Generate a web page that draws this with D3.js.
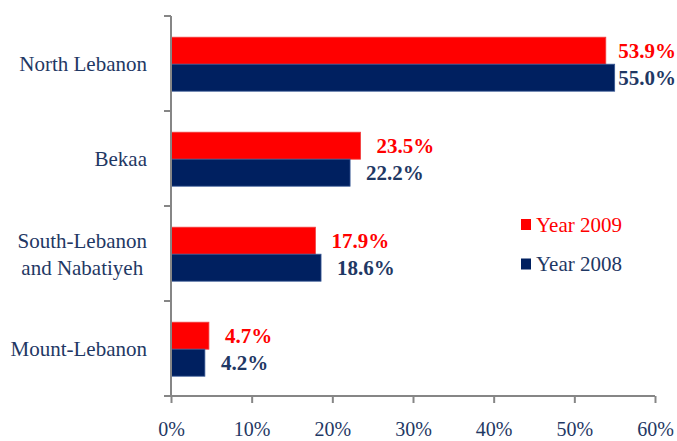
<!DOCTYPE html>
<html><head><meta charset="utf-8">
<script src="https://cdn.jsdelivr.net/npm/d3@7"></script>
<style>body{margin:0;background:#fff;} svg{display:block;} text{font-family:"Liberation Serif","Times New Roman",serif;}</style>
</head><body>
<svg id="c" width="677" height="441"></svg>
<script>
const categories = ["North Lebanon", "Bekaa", "South-Lebanon\nand Nabatiyeh", "Mount-Lebanon"];
const year2009 = [53.9, 23.5, 17.9, 4.7];
const year2008 = [55.0, 22.2, 18.6, 4.2];
const seriesNames = ["Year 2009", "Year 2008"];
const xTicks = [0, 10, 20, 30, 40, 50, 60];

(function () {
const W = 677;
const colors = ["#FF0000", "#002060"];
const textNavy = "#1F3864";
const font = "Liberation Serif";

const svg = d3.select("#c");
const mLeft = 171, mRight = 655, mTop = 16, mBottom = 396;

const x = d3.scaleLinear().domain([0, 60]).range([mLeft, mRight]);
const y = d3.scaleBand().domain(categories).range([mTop, mBottom]);
const inner = d3.scaleBand().domain([0, 1]).range([0, 54]);

const series = [year2009, year2008];

categories.forEach((c, i) => {
  const y0 = y(c) + (y.bandwidth() - 54) / 2 + 0.7;
  series.forEach((vals, s) => {
    const v = vals[i];
    const yy = y0 + inner(s);
    svg.append("rect")
      .attr("x", x(0)).attr("y", yy)
      .attr("width", x(v) - x(0)).attr("height", inner.bandwidth())
      .attr("fill", colors[s])
      .attr("stroke", s === 0 ? "#F04040" : "#3A5A96").attr("stroke-width", 0.8);
    const lbl = svg.append("text")
      .attr("y", yy + inner.bandwidth() / 2 + 7.5)
      .attr("fill", s === 0 ? "#FF0000" : textNavy)
      .attr("font-family", font).attr("font-weight", "bold").attr("font-size", 21)
      .text(v.toFixed(1) + "%");
    const tw = lbl.node().getComputedTextLength();
    lbl.attr("x", Math.min(x(v) + 16, W - 1 - tw));
  });
  const lines = c.split("\n");
  const t = svg.append("text")
    .attr("text-anchor", "middle")
    .attr("fill", textNavy)
    .attr("font-family", font).attr("font-size", 21);
  const cy = y(c) + y.bandwidth() / 2;
  const spans = lines.map((ln, k) => t.append("tspan")
      .attr("y", cy + 7.5 + (k - (lines.length - 1) / 2) * 27)
      .text(ln));
  const maxW = d3.max(spans, sp => sp.node().getComputedTextLength());
  spans.forEach(sp => sp.attr("x", 147 - maxW / 2));
});

const axisColor = "#868686";
svg.append("line").attr("x1", mLeft).attr("x2", mLeft).attr("y1", mTop).attr("y2", mBottom)
  .attr("stroke", axisColor).attr("stroke-width", 2);
const bounds = categories.map(c => y(c)).concat([mBottom]);
bounds.forEach(b => {
  svg.append("line").attr("x1", mLeft - 7).attr("x2", mLeft).attr("y1", b).attr("y2", b)
    .attr("stroke", axisColor).attr("stroke-width", 2);
});

const xAxis = d3.axisBottom(x).tickValues(xTicks).tickFormat(d => d + "%").tickSize(7).tickPadding(19);
const gx = svg.append("g").attr("transform", `translate(0,${mBottom})`).call(xAxis);
gx.attr("font-family", font).attr("font-size", 20);
gx.select(".domain").attr("stroke", axisColor).attr("stroke-width", 2).attr("d", `M${mLeft},0H${mRight}`);
gx.selectAll(".tick line").attr("stroke", axisColor).attr("stroke-width", 2);
gx.selectAll(".tick text").attr("fill", textNavy).attr("font-family", font).attr("font-size", 20);

seriesNames.forEach((n, s) => {
  const ly = 219 + s * 39.5;
  svg.append("rect").attr("x", 521).attr("y", ly).attr("width", 10).attr("height", 11).attr("fill", colors[s]);
  svg.append("text").attr("x", 536).attr("y", ly + 12.5)
    .attr("fill", s === 0 ? "#FF0000" : textNavy)
    .attr("font-family", font).attr("font-size", 21).text(n);
});
})();
</script>
</body></html>
